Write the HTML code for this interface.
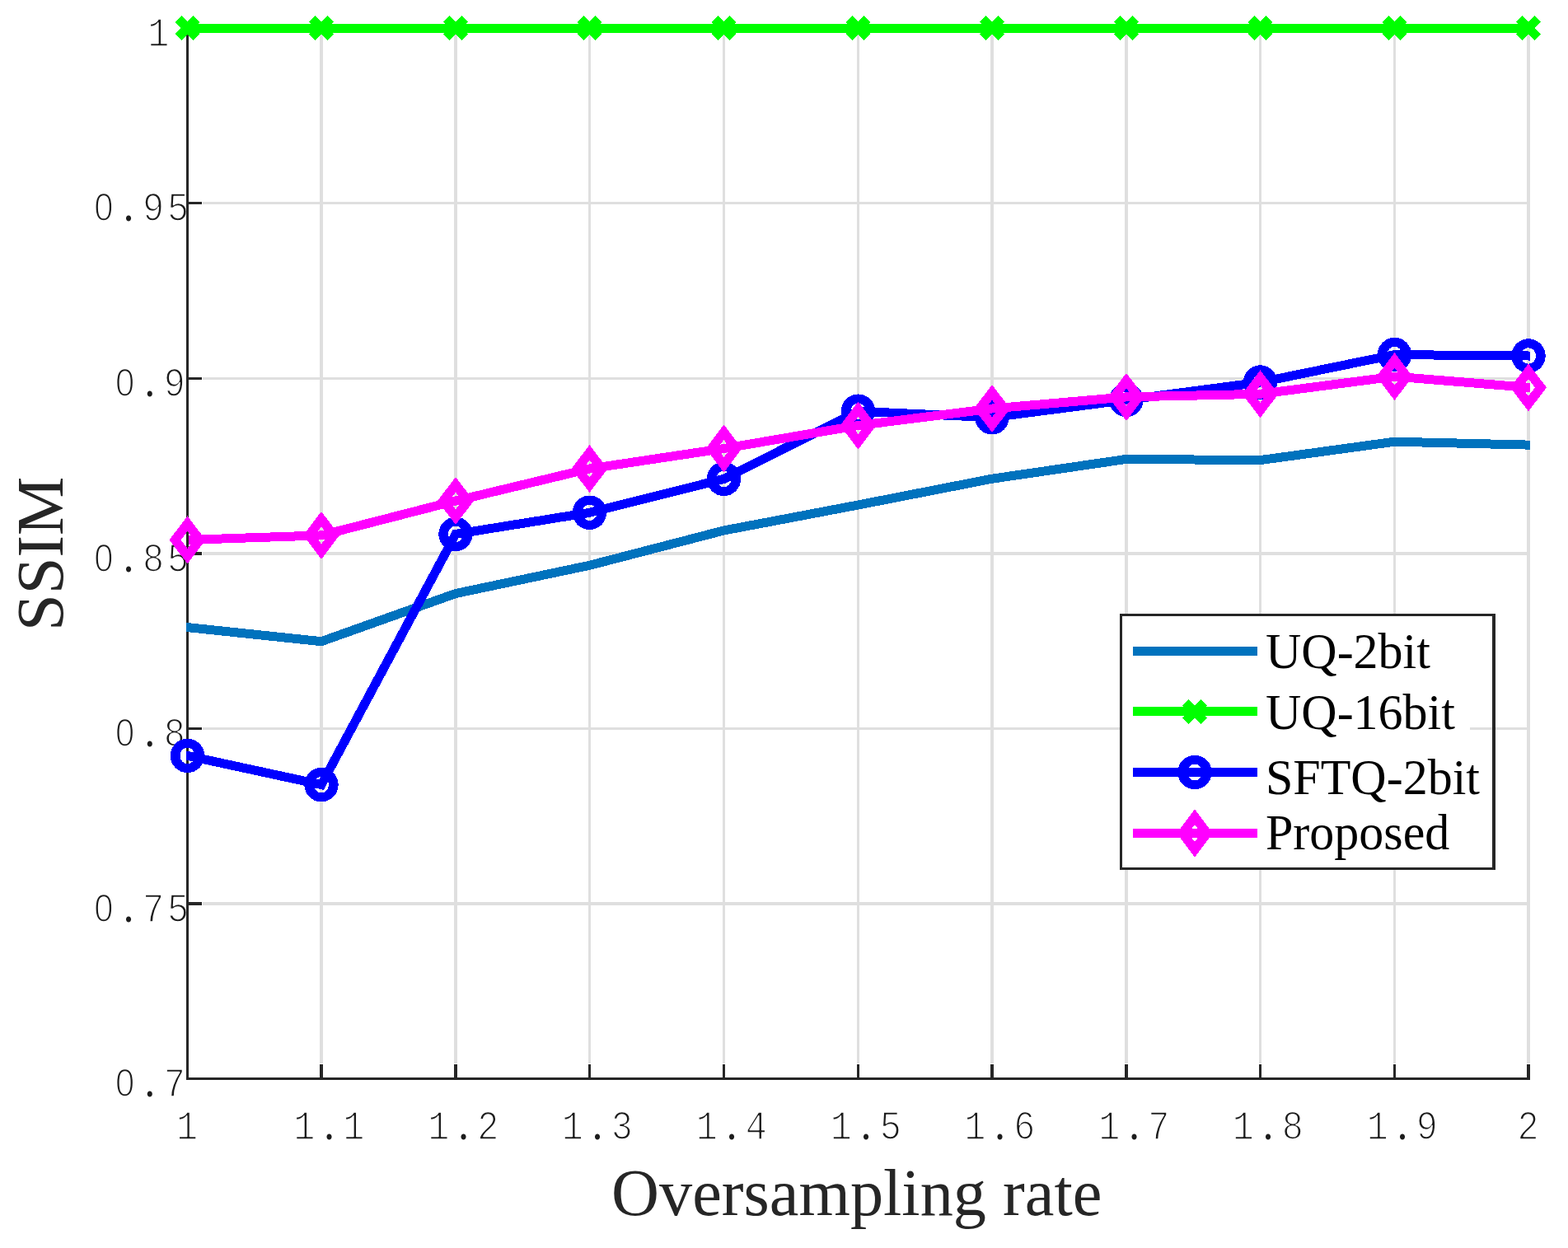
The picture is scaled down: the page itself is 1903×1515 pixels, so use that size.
<!DOCTYPE html>
<html lang="en"><head><meta charset="utf-8"><title>SSIM vs Oversampling rate</title>
<style>
html,body{margin:0;padding:0;background:#fff;}
body{width:1903px;height:1515px;overflow:hidden;}
svg{display:block;}
.tick{font-family:"Liberation Mono","DejaVu Sans Mono",monospace;font-size:50px;letter-spacing:4.48px;fill:#1c1c1c;stroke:#fff;stroke-width:1.6;stroke-linejoin:round;text-anchor:middle;}
.z{font-family:"Liberation Sans","DejaVu Sans",sans-serif;font-size:47.95px;letter-spacing:6.15px;}
.d{font-family:"Liberation Serif","DejaVu Serif",serif;font-size:60px;letter-spacing:11.98px;stroke:none;}
.lab{font-family:"Liberation Serif","DejaVu Serif",serif;font-size:80.3px;fill:#262626;text-anchor:middle;}
.leg{font-family:"Liberation Serif","DejaVu Serif",serif;font-size:60px;fill:#000;}
</style></head><body>
<svg width="1903" height="1515" viewBox="0 0 1903 1515">
<rect x="0" y="0" width="1903" height="1515" fill="#fff"/>
<text class="tick" transform="translate(228.95 1382.8) scale(0.87 1)">1</text>
<text class="tick" transform="translate(401.35 1382.8) scale(0.87 1)">1<tspan class="d" dx="7.5">.</tspan>1</text>
<text class="tick" transform="translate(564.35 1382.8) scale(0.87 1)">1<tspan class="d" dx="7.5">.</tspan>2</text>
<text class="tick" transform="translate(726.85 1382.8) scale(0.87 1)">1<tspan class="d" dx="7.5">.</tspan>3</text>
<text class="tick" transform="translate(889.85 1382.8) scale(0.87 1)">1<tspan class="d" dx="7.5">.</tspan>4</text>
<text class="tick" transform="translate(1052.85 1382.8) scale(0.87 1)">1<tspan class="d" dx="7.5">.</tspan>5</text>
<text class="tick" transform="translate(1215.35 1382.8) scale(0.87 1)">1<tspan class="d" dx="7.5">.</tspan>6</text>
<text class="tick" transform="translate(1378.35 1382.8) scale(0.87 1)">1<tspan class="d" dx="7.5">.</tspan>7</text>
<text class="tick" transform="translate(1540.85 1382.8) scale(0.87 1)">1<tspan class="d" dx="7.5">.</tspan>8</text>
<text class="tick" transform="translate(1703.85 1382.8) scale(0.87 1)">1<tspan class="d" dx="7.5">.</tspan>9</text>
<text class="tick" transform="translate(1856.45 1382.8) scale(0.87 1)">2</text>
<text class="tick" transform="translate(182.95 1331.1) scale(0.87 1)"><tspan class="z" dx="1.67">0</tspan><tspan class="d" dx="7.5">.</tspan>7</text>
<text class="tick" transform="translate(172.15 1118.6) scale(0.87 1)"><tspan class="z" dx="1.67">0</tspan><tspan class="d" dx="7.5">.</tspan>75</text>
<text class="tick" transform="translate(182.95 906.1) scale(0.87 1)"><tspan class="z" dx="1.67">0</tspan><tspan class="d" dx="7.5">.</tspan>8</text>
<text class="tick" transform="translate(172.15 693.6) scale(0.87 1)"><tspan class="z" dx="1.67">0</tspan><tspan class="d" dx="7.5">.</tspan>85</text>
<text class="tick" transform="translate(182.95 481.1) scale(0.87 1)"><tspan class="z" dx="1.67">0</tspan><tspan class="d" dx="7.5">.</tspan>9</text>
<text class="tick" transform="translate(172.15 268.1) scale(0.87 1)"><tspan class="z" dx="1.67">0</tspan><tspan class="d" dx="7.5">.</tspan>95</text>
<text class="tick" transform="translate(194.15 56.1) scale(0.87 1)">1</text>
<g fill="#dfdfdf" shape-rendering="crispEdges">
<rect x="388" y="33" width="4" height="1258"/>
<rect x="551" y="33" width="4" height="1258"/>
<rect x="714" y="33" width="3" height="1258"/>
<rect x="877" y="33" width="3" height="1258"/>
<rect x="1040" y="33" width="3" height="1258"/>
<rect x="1202" y="33" width="4" height="1258"/>
<rect x="1365" y="33" width="4" height="1258"/>
<rect x="1528" y="33" width="3" height="1258"/>
<rect x="1691" y="33" width="3" height="1258"/>
<rect x="1853" y="33" width="4" height="1258"/>
<rect x="246" y="1095" width="1611" height="4"/>
<rect x="246" y="883" width="1611" height="3"/>
<rect x="246" y="670" width="1611" height="4"/>
<rect x="246" y="458" width="1611" height="3"/>
<rect x="246" y="245" width="1611" height="3"/>
</g>
<g fill="#262626" shape-rendering="crispEdges">
<rect x="226" y="33" width="3" height="1278"/>
<rect x="226" y="1308" width="1631" height="3"/>
<rect x="388" y="1292" width="4" height="19"/>
<rect x="551" y="1292" width="4" height="19"/>
<rect x="714" y="1292" width="3" height="19"/>
<rect x="877" y="1292" width="3" height="19"/>
<rect x="1040" y="1292" width="3" height="19"/>
<rect x="1202" y="1292" width="4" height="19"/>
<rect x="1365" y="1292" width="4" height="19"/>
<rect x="1528" y="1292" width="3" height="19"/>
<rect x="1691" y="1292" width="3" height="19"/>
<rect x="1853" y="1292" width="4" height="19"/>
<rect x="226" y="1095" width="19" height="4"/>
<rect x="226" y="883" width="19" height="3"/>
<rect x="226" y="670" width="19" height="4"/>
<rect x="226" y="458" width="19" height="3"/>
<rect x="226" y="245" width="19" height="3"/>
</g>
<defs><clipPath id="pc"><rect x="226" y="0" width="1631" height="1515"/></clipPath><clipPath id="pm"><rect x="229" y="0" width="1628" height="1515"/></clipPath></defs>
<g fill="none" stroke-width="11" stroke-linejoin="miter" stroke-linecap="butt" shape-rendering="crispEdges">
<polyline stroke="#0072bd" clip-path="url(#pc)" points="214,760.18 390,778.7 553,720.5 715.5,686.3 878.5,644 1041.5,613 1204,581.2 1367,557.4 1529.5,558.6 1692.5,536.2 1869,540.44"/>
<g stroke="#00ff00"><polyline clip-path="url(#pc)" points="214,34.5 390,34.5 553,34.5 715.5,34.5 878.5,34.5 1041.5,34.5 1204,34.5 1367,34.5 1529.5,34.5 1692.5,34.5 1869,34.5"/>
<path d="M216.3 22.8L238.7 45.2M216.3 45.2L238.7 22.8"/>
<path d="M378.8 22.8L401.2 45.2M378.8 45.2L401.2 22.8"/>
<path d="M541.8 22.8L564.2 45.2M541.8 45.2L564.2 22.8"/>
<path d="M704.3 22.8L726.7 45.2M704.3 45.2L726.7 22.8"/>
<path d="M867.3 22.8L889.7 45.2M867.3 45.2L889.7 22.8"/>
<path d="M1030.3 22.8L1052.7 45.2M1030.3 45.2L1052.7 22.8"/>
<path d="M1192.8 22.8L1215.2 45.2M1192.8 45.2L1215.2 22.8"/>
<path d="M1355.8 22.8L1378.2 45.2M1355.8 45.2L1378.2 22.8"/>
<path d="M1518.3 22.8L1540.7 45.2M1518.3 45.2L1540.7 22.8"/>
<path d="M1681.3 22.8L1703.7 45.2M1681.3 45.2L1703.7 22.8"/>
<path d="M1843.8 22.8L1866.2 45.2M1843.8 45.2L1866.2 22.8"/>
</g>
<g stroke="#0000ff"><polyline clip-path="url(#pc)" points="214,914.48 390,952.6 553,648.4 715.5,622.3 878.5,581.4 1041.5,499.3 1204,506.7 1367,485.5 1529.5,464.1 1692.5,430.6 1869,432.12"/>
<path stroke="none" fill="#0000ff" fill-rule="evenodd" d="M206.8 917.4a20.7 20.8 0 1 0 41.4 0a20.7 20.8 0 1 0 -41.4 0ZM218.5 917.4a9 9.8 0 1 0 18 0a9 9.8 0 1 0 -18 0Z"/>
<path stroke="none" fill="#0000ff" fill-rule="evenodd" d="M369.3 952.6a20.7 20.8 0 1 0 41.4 0a20.7 20.8 0 1 0 -41.4 0ZM381 952.6a9 9.8 0 1 0 18 0a9 9.8 0 1 0 -18 0Z"/>
<path stroke="none" fill="#0000ff" fill-rule="evenodd" d="M532.3 648.4a20.7 20.8 0 1 0 41.4 0a20.7 20.8 0 1 0 -41.4 0ZM544 648.4a9 9.8 0 1 0 18 0a9 9.8 0 1 0 -18 0Z"/>
<path stroke="none" fill="#0000ff" fill-rule="evenodd" d="M694.8 622.3a20.7 20.8 0 1 0 41.4 0a20.7 20.8 0 1 0 -41.4 0ZM706.5 622.3a9 9.8 0 1 0 18 0a9 9.8 0 1 0 -18 0Z"/>
<path stroke="none" fill="#0000ff" fill-rule="evenodd" d="M857.8 581.4a20.7 20.8 0 1 0 41.4 0a20.7 20.8 0 1 0 -41.4 0ZM869.5 581.4a9 9.8 0 1 0 18 0a9 9.8 0 1 0 -18 0Z"/>
<path stroke="none" fill="#0000ff" fill-rule="evenodd" d="M1020.8 499.3a20.7 20.8 0 1 0 41.4 0a20.7 20.8 0 1 0 -41.4 0ZM1032.5 499.3a9 9.8 0 1 0 18 0a9 9.8 0 1 0 -18 0Z"/>
<path stroke="none" fill="#0000ff" fill-rule="evenodd" d="M1183.3 506.7a20.7 20.8 0 1 0 41.4 0a20.7 20.8 0 1 0 -41.4 0ZM1195 506.7a9 9.8 0 1 0 18 0a9 9.8 0 1 0 -18 0Z"/>
<path stroke="none" fill="#0000ff" fill-rule="evenodd" d="M1346.3 485.5a20.7 20.8 0 1 0 41.4 0a20.7 20.8 0 1 0 -41.4 0ZM1358 485.5a9 9.8 0 1 0 18 0a9 9.8 0 1 0 -18 0Z"/>
<path stroke="none" fill="#0000ff" fill-rule="evenodd" d="M1508.8 464.1a20.7 20.8 0 1 0 41.4 0a20.7 20.8 0 1 0 -41.4 0ZM1520.5 464.1a9 9.8 0 1 0 18 0a9 9.8 0 1 0 -18 0Z"/>
<path stroke="none" fill="#0000ff" fill-rule="evenodd" d="M1671.8 430.6a20.7 20.8 0 1 0 41.4 0a20.7 20.8 0 1 0 -41.4 0ZM1683.5 430.6a9 9.8 0 1 0 18 0a9 9.8 0 1 0 -18 0Z"/>
<path stroke="none" fill="#0000ff" fill-rule="evenodd" d="M1834.3 432a20.7 20.8 0 1 0 41.4 0a20.7 20.8 0 1 0 -41.4 0ZM1846 432a9 9.8 0 1 0 18 0a9 9.8 0 1 0 -18 0Z"/>
</g>
<g stroke="#ff00ff"><polyline clip-path="url(#pm)" points="214,655.86 390,649.9 553,608 715.5,569 878.5,544.5 1041.5,516.5 1204,496 1367,481.9 1529.5,478.3 1692.5,457.1 1869,471.55"/>
<path stroke="none" fill="#ff00ff" fill-rule="evenodd" d="M227.5 626.4L249.5 655.4L227.5 684.4L205.5 655.4ZM227.5 645L235.4 655.4L227.5 665.8L219.6 655.4Z"/>
<path stroke="none" fill="#ff00ff" fill-rule="evenodd" d="M390 620.9L412 649.9L390 678.9L368 649.9ZM390 639.5L397.9 649.9L390 660.3L382.1 649.9Z"/>
<path stroke="none" fill="#ff00ff" fill-rule="evenodd" d="M553 579L575 608L553 637L531 608ZM553 597.6L560.9 608L553 618.4L545.1 608Z"/>
<path stroke="none" fill="#ff00ff" fill-rule="evenodd" d="M715.5 540L737.5 569L715.5 598L693.5 569ZM715.5 558.6L723.4 569L715.5 579.4L707.6 569Z"/>
<path stroke="none" fill="#ff00ff" fill-rule="evenodd" d="M878.5 515.5L900.5 544.5L878.5 573.5L856.5 544.5ZM878.5 534.1L886.4 544.5L878.5 554.9L870.6 544.5Z"/>
<path stroke="none" fill="#ff00ff" fill-rule="evenodd" d="M1041.5 487.5L1063.5 516.5L1041.5 545.5L1019.5 516.5ZM1041.5 506.1L1049.4 516.5L1041.5 526.9L1033.6 516.5Z"/>
<path stroke="none" fill="#ff00ff" fill-rule="evenodd" d="M1204 467L1226 496L1204 525L1182 496ZM1204 485.6L1211.9 496L1204 506.4L1196.1 496Z"/>
<path stroke="none" fill="#ff00ff" fill-rule="evenodd" d="M1367 452.9L1389 481.9L1367 510.9L1345 481.9ZM1367 471.5L1374.9 481.9L1367 492.3L1359.1 481.9Z"/>
<path stroke="none" fill="#ff00ff" fill-rule="evenodd" d="M1529.5 449.3L1551.5 478.3L1529.5 507.3L1507.5 478.3ZM1529.5 467.9L1537.4 478.3L1529.5 488.7L1521.6 478.3Z"/>
<path stroke="none" fill="#ff00ff" fill-rule="evenodd" d="M1692.5 428.1L1714.5 457.1L1692.5 486.1L1670.5 457.1ZM1692.5 446.7L1700.4 457.1L1692.5 467.5L1684.6 457.1Z"/>
<path stroke="none" fill="#ff00ff" fill-rule="evenodd" d="M1855 441.4L1877 470.4L1855 499.4L1833 470.4ZM1855 460L1862.9 470.4L1855 480.8L1847.1 470.4Z"/>
</g>
</g>
<text class="lab" x="1039.7" y="1475.3">Oversampling rate</text>
<text class="lab" transform="translate(75.6 672.3) rotate(-90)">SSIM</text>
<g shape-rendering="crispEdges">
<rect x="1359" y="745" width="456" height="311" fill="#262626"/>
<rect x="1362" y="748" width="449" height="305" fill="#fff"/>
<rect x="1784" y="883" width="27" height="3" fill="#dfdfdf"/>
</g>
<g fill="none" stroke-width="11" shape-rendering="crispEdges">
<line x1="1375" y1="790.5" x2="1526" y2="790.5" stroke="#0072bd"/>
<line x1="1375" y1="863.5" x2="1526" y2="863.5" stroke="#00ff00"/>
<line x1="1375" y1="937.5" x2="1526" y2="937.5" stroke="#0000ff"/>
<line x1="1375" y1="1011.5" x2="1526" y2="1011.5" stroke="#ff00ff"/>
<g stroke="#00ff00"><path d="M1438.8 852.7L1461.2 875.1M1438.8 875.1L1461.2 852.7"/></g>
<g stroke="#0000ff"><path stroke="none" fill="#0000ff" fill-rule="evenodd" d="M1429.3 937.5a20.7 20.8 0 1 0 41.4 0a20.7 20.8 0 1 0 -41.4 0ZM1441 937.5a9 9.8 0 1 0 18 0a9 9.8 0 1 0 -18 0Z"/></g>
<g stroke="#ff00ff"><path stroke="none" fill="#ff00ff" fill-rule="evenodd" d="M1450 982.5L1472 1011.5L1450 1040.5L1428 1011.5ZM1450 1001.1L1457.9 1011.5L1450 1021.9L1442.1 1011.5Z"/></g>
</g>
<text class="leg" transform="translate(1536 811) scale(1 1.03)">UQ-2bit</text>
<text class="leg" transform="translate(1536 885) scale(1 1.03)">UQ-16bit</text>
<text class="leg" transform="translate(1536 963.8) scale(1 1.03)">SFTQ-2bit</text>
<text class="leg" transform="translate(1536 1031.4) scale(1 1.03)">Proposed</text>
</svg>
</body></html>
